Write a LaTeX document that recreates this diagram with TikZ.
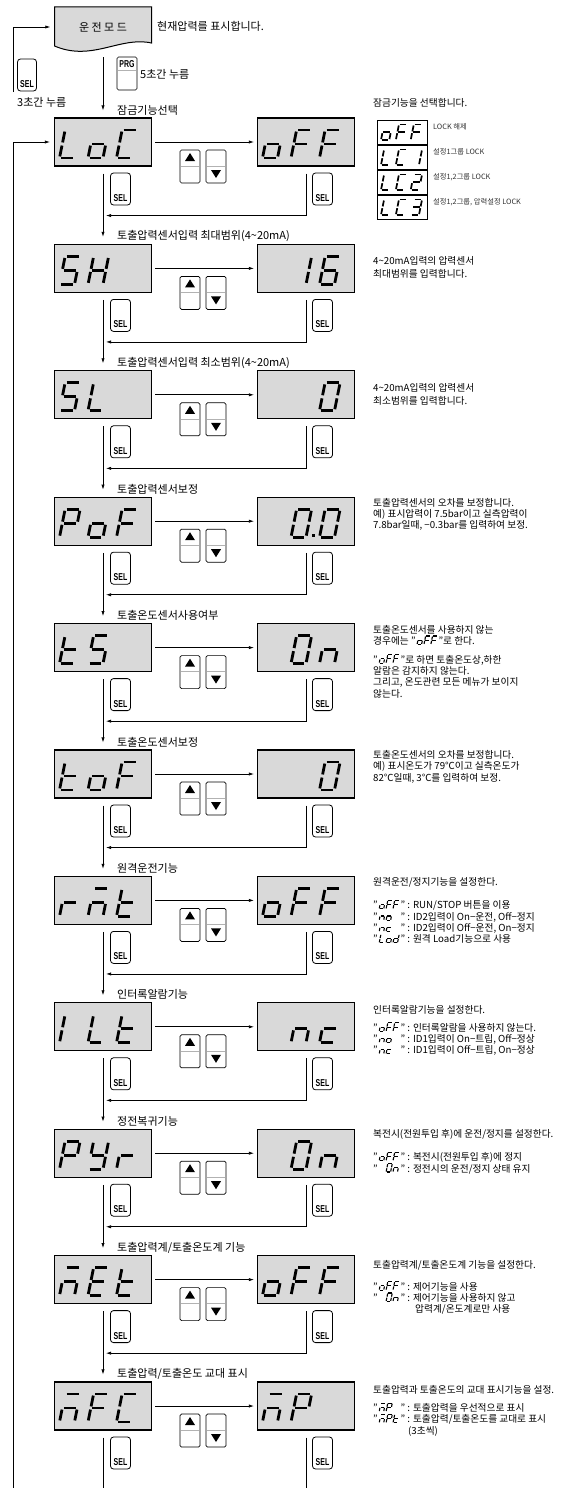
\documentclass[tikz,border=0pt]{standalone}
\usepackage{graphicx}
\usepackage{fontspec}
\setmainfont{Noto Sans CJK KR}
\newfontfamily\btnfont{Liberation Sans}
\usetikzlibrary{arrows.meta,calc}

% seven-segment pieces (local origin = bottom-left, y grows downward)
\def\SgA{\draw[seg] (5.6,-28) -- (20.6,-28);}
\def\SgB{\draw[seg] (20.6,-28) -- (17.8,-14);}
\def\SgC{\draw[seg] (17.8,-14) -- (15,0);}
\def\SgD{\draw[seg] (0,0) -- (15,0);}
\def\SgE{\draw[seg] (0,0) -- (2.8,-14);}
\def\SgF{\draw[seg] (2.8,-14) -- (5.6,-28);}
\def\SgG{\draw[seg] (2.8,-14) -- (17.8,-14);}
\def\CHL{\SgD\SgE\SgF}
\def\CHo{\SgC\SgD\SgE\SgG}
\def\CHC{\SgA\SgD\SgE\SgF}
\def\CHF{\SgA\SgE\SgF\SgG}
\def\CHS{\SgA\SgC\SgD\SgF\SgG}
\def\CHH{\SgB\SgC\SgE\SgF\SgG}
\def\CHone{\SgB\SgC}
\def\CHtwo{\SgA\SgB\SgD\SgE\SgG}
\def\CHthree{\SgA\SgB\SgC\SgD\SgG}
\def\CHsix{\SgA\SgC\SgD\SgE\SgF\SgG}
\def\CHzero{\SgA\SgB\SgC\SgD\SgE\SgF}
\def\CHzd{\CHzero\fill (21,-3) rectangle (24,0);}
\def\CHP{\SgA\SgB\SgE\SgF\SgG}
\def\CHt{\SgD\SgE\SgF\SgG}
\def\CHn{\SgC\SgE\SgG}
\def\CHm{\SgA\SgC\SgE\SgG}
\def\CHE{\SgA\SgD\SgE\SgF\SgG}
\def\CHc{\SgD\SgE\SgG}
\def\CHI{\SgE\SgF}
\def\CHy{\SgB\SgC\SgD\SgF\SgG}
\def\CHr{\SgE\SgG}
\def\CHd{\SgB\SgC\SgD\SgE\SgG}
\def\CHx{}

\newcommand\dchars[5]{%
 \begin{scope}[shift={({#1+5},{#2+40})}]\csname CH#3\endcsname\end{scope}%
 \begin{scope}[shift={({#1+33.5},{#2+40})}]\csname CH#4\endcsname\end{scope}%
 \begin{scope}[shift={({#1+62},{#2+40})}]\csname CH#5\endcsname\end{scope}}

\newcommand\ichars[3]{%
 \begin{scope}[scale=0.3, seg/.style={line width=1.1pt, shorten <=0.5pt, shorten >=0.5pt}]
  \begin{scope}[shift={(0,0)}]\csname CH#1\endcsname\end{scope}
  \begin{scope}[shift={(23,0)}]\csname CH#2\endcsname\end{scope}
  \begin{scope}[shift={(46,0)}]\csname CH#3\endcsname\end{scope}
 \end{scope}}

\newcommand\lchars[3]{%
 \begin{scope}[scale=0.55, seg/.style={line width=1.7pt, shorten <=0.9pt, shorten >=0.9pt}]
  \begin{scope}[shift={(0,0)}]\csname CH#1\endcsname\end{scope}
  \begin{scope}[shift={(27,0)}]\csname CH#2\endcsname\end{scope}
  \begin{scope}[shift={(54,0)}]\csname CH#3\endcsname\end{scope}
 \end{scope}}

\newcommand\gline[8]{%
 \node[desc,anchor=base west] (#1a) at (#2,#3) {#4};
 \begin{scope}[shift={(#1a.base east)}]
  \begin{scope}[shift={(1.2,0)}]\ichars{#5}{#6}{#7}\end{scope}
  \node[desc,anchor=base west] (#1b) at (22.5,0) {#8};
 \end{scope}}

\newcommand\dln[3]{\node[desc,anchor=base west] (#1) at (373,#2) {#3};}

\newcommand\lgd[6]{%
 \node[lgbox] (lg#1) at (402,{#2+12}) {};
 \begin{scope}[shift={(381,{#2+20})}]\lchars{#3}{#4}{#5}\end{scope}
 \node[lgtxt] (lgt#1) at (433,{#2+7}) {#6};}

\newcommand\drow[9]{%
 \node[dbox] (L#2) at (103,{#1+24}) {};
 \node[dbox] (R#2) at (306,{#1+24}) {};
 \dchars{54.5}{#1}{#3}{#4}{#5}%
 \dchars{257.5}{#1}{#6}{#7}{#8}%
 \node[lbl] (lab#2) at (117,{#1-8}) {#9};
 \draw[arr] ($(L#2.east)+(3,0)$) -- ($(R#2.west)+(-3,0)$);
 \node[btn] (up#2) at (190,{#1+48.5}) {};
 \node[btn] (dn#2) at (216,{#1+48.5}) {};
 \fill (190,{#1+35}) -- (195,{#1+43}) -- (185,{#1+43}) -- cycle;
 \fill (216,{#1+60}) -- (221,{#1+52}) -- (211,{#1+52}) -- cycle;
 \draw[gray!60, line width=0.6pt] (181,{#1+48}) -- (199,{#1+48}) (207,{#1+48}) -- (225,{#1+48});
 \node[selbtn] (sl#2) at (120.5,{#1+71}) {};
 \node[btntxt] (slt#2) at (120.5,{#1+80}) {\scalebox{0.7}[1]{SEL}};
 \node[selbtn] (sr#2) at (322.5,{#1+71}) {};
 \node[btntxt] (srt#2) at (322.5,{#1+80}) {\scalebox{0.7}[1]{SEL}};
}

\begin{document}
\begin{tikzpicture}[x=1pt,y=-1pt,
 seg/.style={line width=2.8pt, shorten <=1.6pt, shorten >=1.6pt},
 dbox/.style={draw, line width=1.1pt, fill=gray!30, minimum width=97pt, minimum height=48pt, inner sep=0},
 conn/.style={line width=0.7pt},
 arr/.style={conn, -{Latex[length=5pt,width=3.2pt]}},
 lbl/.style={anchor=west, inner sep=0, font=\fontsize{11}{13}\selectfont},
 desc/.style={inner sep=0, font=\fontsize{9.7}{11}\selectfont},
 btn/.style={draw, line width=0.7pt, fill=white, rounded corners=1.5pt, minimum width=20pt, minimum height=33pt, inner sep=0},
 selbtn/.style={draw, line width=0.8pt, fill=white, rounded corners=3pt, minimum width=20pt, minimum height=32pt, inner sep=0},
 btntxt/.style={inner sep=0, font=\fontsize{10}{10}\btnfont\bfseries},
 lgbox/.style={draw, line width=0.9pt, fill=white, minimum width=50pt, minimum height=24pt, inner sep=0},
 lgtxt/.style={anchor=west, inner sep=0, font=\fontsize{7.3}{9}\selectfont, text=black!80}]
\useasboundingbox (0,0) rectangle (571,1488);
\fill[white] (0,0) rectangle (571,1488);

% top: operation mode
\filldraw[fill=gray!30, line width=1pt] (54.5,7) -- (151.5,7) -- (151.5,43) .. controls (120,36) and (92,62) .. (54.5,46) -- cycle;
\node[inner sep=0, minimum width=97pt, minimum height=40pt, font=\fontsize{11}{13}\selectfont] (mode) at (103,27) {운 전 모 드};
\node[lbl] (cur) at (157,26) {현재압력를 표시합니다.};
\node[btn] (prg) at (127,73.5) {};
\node[btntxt] (prgt) at (127,64) {\scalebox{0.7}[1]{PRG}};
\draw[gray!60, line width=0.6pt] (118,70) -- (136,70);
\node[lbl] (prgl) at (140,74) {5초간 누름};
\node[selbtn, minimum width=19pt] (tsel) at (27,75) {};
\node[btntxt] (tselt) at (27,84) {\scalebox{0.7}[1]{SEL}};
\node[lbl] (tl3) at (17,102) {3초간 누름};

% rows
\drow{118}{0}{L}{o}{C}{o}{F}{F}{잠금기능선택}
\drow{244.4}{1}{S}{H}{x}{x}{one}{six}{토출압력센서입력 최대범위(4\textasciitilde 20mA)}
\drow{370.8}{2}{S}{L}{x}{x}{x}{zero}{토출압력센서입력 최소범위(4\textasciitilde 20mA)}
\drow{497.2}{3}{P}{o}{F}{x}{zd}{zero}{토출압력센서보정}
\drow{623.6}{4}{t}{S}{x}{x}{zero}{n}{토출온도센서사용여부}
\drow{750}{5}{t}{o}{F}{x}{x}{zero}{토출온도센서보정}
\drow{876.4}{6}{r}{m}{t}{o}{F}{F}{원격운전기능}
\drow{1002.8}{7}{I}{L}{t}{x}{n}{c}{인터록알람기능}
\drow{1129.2}{8}{P}{y}{r}{x}{zero}{n}{정전복귀기능}
\drow{1255.6}{9}{m}{E}{t}{o}{F}{F}{토출압력계/토출온도계 기능}
\drow{1382}{10}{m}{F}{C}{m}{P}{x}{토출압력/토출온도 교대 표시}

% connectors
\draw[arr] ($(mode.south)+(0,10)$) -- ($(L0.north)+(0,-7)$);
\coordinate (topB) at (13,92);
\draw[arr] (topB) |- ($(mode.west)+(-4,0)$);
\coordinate (outB) at (13,1488);
\draw[arr] (outB) |- ($(L0.west)+(-4,0)$);
\foreach \i/\j in {0/1,1/2,2/3,3/4,4/5,5/6,6/7,7/8,8/9,9/10}{
 \draw[arr] ($(L\i.south)+(0,7)$) -- ($(L\j.north)+(0,-7)$);
 \draw[arr] ($(R\i.south)+(0,7)$) |- ($(L\i.south)+(3,49)$);
}
\coordinate (endL) at (103,1488);
\coordinate (endR) at (306,1488);
\draw[conn] ($(L10.south)+(0,7)$) -- (endL);
\draw[conn] ($(R10.south)+(0,7)$) -- (endR);

% legend for lock
\dln{d0a}{106.5}{잠금기능을 선택합니다.}
\lgd{1}{120}{o}{F}{F}{LOCK 해제}
\lgd{2}{145}{L}{C}{one}{설정1그룹 LOCK}
\lgd{3}{170}{L}{C}{two}{설정1,2그룹 LOCK}
\lgd{4}{195}{L}{C}{three}{설정1,2그룹, 압력설정 LOCK}

% descriptions
\dln{d1a}{264.9}{4\textasciitilde 20mA입력의 압력센서}
\dln{d1b}{277.9}{최대범위를 입력합니다.}
\dln{d2a}{391.3}{4\textasciitilde 20mA입력의 압력센서}
\dln{d2b}{404.3}{최소범위를 입력합니다.}
\dln{d3a}{506.7}{토출압력센서의 오차를 보정합니다.}
\dln{d3b}{517.7}{예) 표시압력이 7.5bar이고 실측압력이}
\dln{d3c}{528.7}{7.8bar일때, −0.3bar를 입력하여 보정.}
\dln{d4a}{633.1}{토출온도센서를 사용하지 않는}
\gline{d4b}{373}{644.4}{경우에는 "}{o}{F}{F}{"로 한다.}
\gline{d4c}{373}{663.1}{"}{o}{F}{F}{"로 하면 토출온도상,하한}
\dln{d4d}{674.4}{알람은 감지하지 않는다.}
\dln{d4e}{685.7}{그리고, 온도관련 모든 메뉴가 보이지}
\dln{d4f}{697}{않는다.}
\dln{d5a}{758.5}{토출온도센서의 오차를 보정합니다.}
\dln{d5b}{769.8}{예) 표시온도가 79℃이고 실측온도가}
\dln{d5c}{781.1}{82℃일때, 3℃를 입력하여 보정.}
\dln{d6a}{885.9}{원격운전/정지기능을 설정한다.}
\gline{d6b}{373}{908.9}{"}{o}{F}{F}{" : RUN/STOP 버튼을 이용}
\gline{d6c}{373}{920.2}{"}{n}{o}{x}{" : ID2입력이 On−운전, Off−정지}
\gline{d6d}{373}{931.5}{"}{n}{c}{x}{" : ID2입력이 Off−운전, On−정지}
\gline{d6e}{373}{942.8}{"}{L}{o}{d}{" : 원격 Load기능으로 사용}
\dln{d7a}{1013.3}{인터록알람기능을 설정한다.}
\gline{d7b}{373}{1031.3}{"}{o}{F}{F}{" : 인터록알람을 사용하지 않는다.}
\gline{d7c}{373}{1042.6}{"}{n}{o}{x}{" : ID1입력이 On−트립, Off−정상}
\gline{d7d}{373}{1053.9}{"}{n}{c}{x}{" : ID1입력이 Off−트립, On−정상}
\dln{d8a}{1137.7}{복전시(전원투입 후)에 운전/정지를 설정한다.}
\gline{d8b}{373}{1160.7}{"}{o}{F}{F}{" : 복전시(전원투입 후)에 정지}
\gline{d8c}{373}{1172}{"}{x}{zero}{n}{" : 정전시의 운전/정지 상태 유지}
\dln{d9a}{1268.1}{토출압력계/토출온도계 기능을 설정한다.}
\gline{d9b}{373}{1290.1}{"}{o}{F}{F}{" : 제어기능을 사용}
\gline{d9c}{373}{1301.4}{"}{x}{zero}{n}{" : 제어기능을 사용하지 않고}
\node[desc,anchor=base west] (d9d) at (415,1312.7) {압력계/온도계로만 사용};
\dln{d10a}{1393.5}{토출압력과 토출온도의 교대 표시기능을 설정.}
\gline{d10b}{373}{1411.5}{"}{m}{P}{x}{" : 토출압력을 우선적으로 표시}
\gline{d10c}{373}{1422.8}{"}{m}{P}{t}{" : 토출압력/토출온도를 교대로 표시}
\node[desc,anchor=base west] (d10d) at (408,1434.1) {(3초씩)};
\end{tikzpicture}
\end{document}
